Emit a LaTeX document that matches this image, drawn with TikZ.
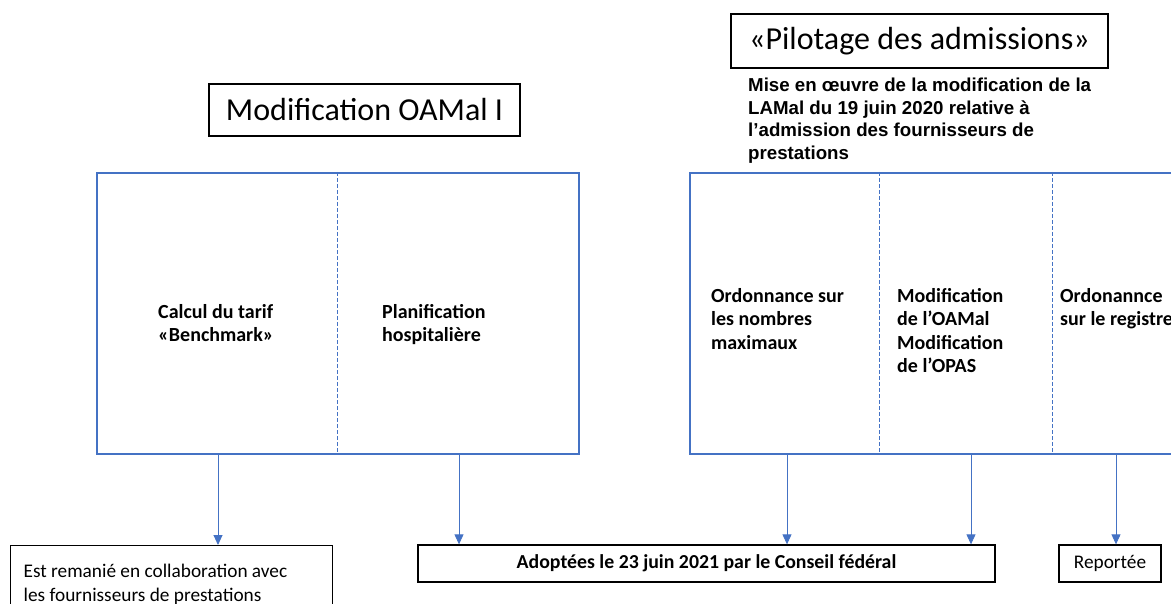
\documentclass[tikz,border=0pt]{standalone}
\usepackage{fontspec}
\setmainfont{Carlito}
\newfontfamily\arialfont{Liberation Sans}
\usepackage{xcolor}
\usetikzlibrary{arrows.meta}

\definecolor{accblue}{HTML}{4472C4}

\begin{document}
\begin{tikzpicture}[x=1pt,y=-1pt,
  titlebox/.style={draw=black,line width=1.3pt,inner sep=0pt,font=\fontsize{32}{38}\selectfont},
  groupbox/.style={draw=accblue,line width=1.6pt,inner sep=0pt},
  coltext/.style={anchor=north west,inner sep=0pt,align=left,font=\fontsize{20}{23.5}\selectfont\bfseries},
  resultbox/.style={draw=black,line width=1.3pt,inner sep=0pt,font=\fontsize{19.3}{24}\selectfont},
  divider/.style={draw=accblue,line width=0.6pt,dash pattern=on 4pt off 2pt},
  flow/.style={draw=accblue,line width=0.9pt,-{Triangle[width=9pt,length=10pt]}}]

\useasboundingbox (0,0) rectangle (1171,604);
\clip (0,0) rectangle (1171,604);

% titles
\node[titlebox,minimum width=311,minimum height=52] (oamal) at (364.5,110) {Modification OAMal I};
\node[titlebox,minimum width=377,minimum height=54] (pilot) at (919.5,41) {«Pilotage des admissions»};
\node[anchor=north west,inner sep=0pt,align=left,font=\arialfont\fontsize{18.7}{22.5}\selectfont\bfseries] (mise) at (748,78)
  {Mise en œuvre de la modification de la\\LAMal du 19 juin 2020 relative à\\l’admission des fournisseurs de\\prestations};

% group boxes
\node[groupbox,anchor=north west,minimum width=482,minimum height=281] (left) at (96,172) {};
\node[groupbox,anchor=north west,minimum width=560,minimum height=281] (right) at (689,172) {};

\coordinate (d1) at (337,172);
\coordinate (d2) at (879,172);
\coordinate (d3) at (1052,172);
\draw[divider] (d1) -- (d1 |- left.south);
\draw[divider] (d2) -- (d2 |- right.south);
\draw[divider] (d3) -- (d3 |- right.south);

% column texts
\node[coltext] (calc) at (158,304) {Calcul du tarif\\«Benchmark»};
\node[coltext] (plan) at (382,304) {Planification\\hospitalière};
\node[coltext] (nomb) at (711,288) {Ordonnance sur\\les nombres\\maximaux};
\node[coltext] (modif) at (897,288) {Modification\\de l’OAMal\\Modification\\de l’OPAS};
\node[coltext] (regis) at (1060,288) {Ordonannce\\sur le registre};

% results
\node[resultbox,anchor=north west,minimum width=322,text width=296,align=flush left,inner xsep=13pt,inner ysep=18pt] (rem) at (10,545)
  {Est remanié en collaboration avec\\les fournisseurs de prestations};
\node[resultbox,minimum width=577,minimum height=37,font=\fontsize{19.8}{24}\selectfont\bfseries] (adopt) at (706.5,563.5)
  {Adoptées le 23 juin 2021 par le Conseil fédéral};
\node[resultbox,minimum width=102,minimum height=37] (report) at (1110,563.5) {Reportée};

% arrows
\coordinate (a1) at (218,453);
\coordinate (a2) at (459,453);
\coordinate (a3) at (787,453);
\coordinate (a4) at (971,453);
\coordinate (a5) at (1116,453);
\draw[flow] (a1) -- (a1 |- rem.north);
\draw[flow] (a2) -- (a2 |- adopt.north);
\draw[flow] (a3) -- (a3 |- adopt.north);
\draw[flow] (a4) -- (a4 |- adopt.north);
\draw[flow] (a5) -- (a5 |- report.north);

\end{tikzpicture}
\end{document}
